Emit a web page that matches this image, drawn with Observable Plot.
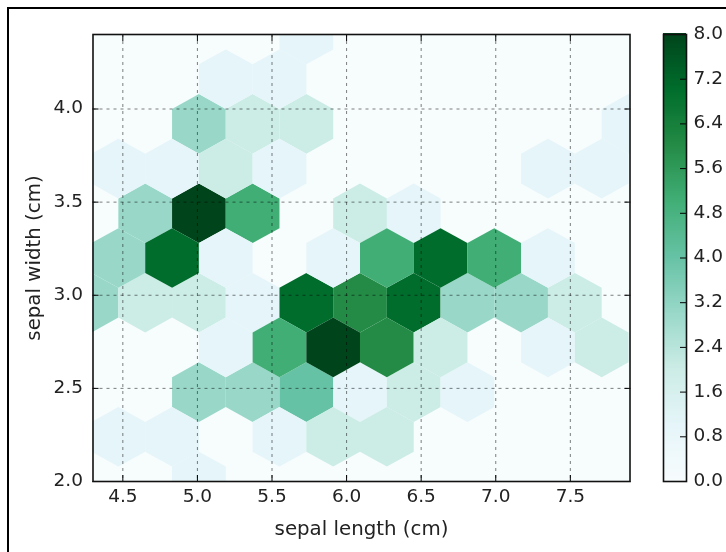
<!DOCTYPE html>
<html>
<head>
<meta charset="utf-8">
<script src="https://cdn.jsdelivr.net/npm/d3@7"></script>
<script src="https://cdn.jsdelivr.net/npm/@observablehq/plot@0.6"></script>
<style>
  html, body { margin: 0; padding: 0; background: #fff; }
  #page { position: relative; width: 726px; height: 552px; overflow: hidden; }
  #page svg { position: absolute; left: 0; top: 0; background: transparent; font-family: "DejaVu Sans"; filter: blur(0.45px); }
  #edge { position: absolute; left: 7px; top: 7px; width: 730px; height: 560px; border-left: 2px solid #000; border-top: 2px solid #000; }
</style>
</head>
<body>
<div id="page"><div id="edge"></div></div>
<script>
// Counts per hexagon, rows bottom to top. Odd rows are offset by half a cell.
const rowsA = [
  [0,0,1,0,0,0,0,0,0,0,0],
  [0,0,3,3,4,1,2,1,0,0,0],
  [3,2,2,1,7,6,7,3,3,2,0],
  [0,3,8,5,0,2,1,0,0,0,0],
  [0,0,3,2,2,0,0,0,0,0,1],
  [0,0,0,0,1,0,0,0,0,0,0]
];
const rowsB = [
  [1,1,0,1,2,2,0,0,0,0],
  [0,0,1,5,8,6,2,0,1,2],
  [3,7,1,0,1,5,7,5,1,0],
  [1,1,2,1,0,0,0,0,1,1],
  [0,0,1,1,0,0,0,0,0,0]
];
const xOrigin = 4.29, yOrigin = 2.0, cellX = 0.36, cellY = 0.48;
const xTicks = [4.5, 5.0, 5.5, 6.0, 6.5, 7.0, 7.5];
const yTicks = [2.0, 2.5, 3.0, 3.5, 4.0];
const barTicks = [0, 0.8, 1.6, 2.4, 3.2, 4.0, 4.8, 5.6, 6.4, 7.2, 8.0];
const colorStops = [0, 1, 2, 3, 4, 5, 6, 7, 8];
const colorRange = d3.schemeBuGn[9];
const barLevels = d3.range(0, 8, 8 / 256);

const hexShape = [[.5,-.5],[.5,.5],[0,1],[-.5,.5],[-.5,-.5],[0,-1]];
const vertices = [];
function addHex(cx, cy, count, id) {
  if (!count) return;
  for (const [a, b] of hexShape) {
    vertices.push({id, count, x: cx + a * cellX, y: cy + b * cellY / 3});
  }
}
rowsA.forEach((row, j) => row.forEach((c, i) =>
  addHex(xOrigin + i * cellX, yOrigin + j * cellY, c, `a${j}-${i}`)));
rowsB.forEach((row, j) => row.forEach((c, i) =>
  addHex(xOrigin + (i + .5) * cellX, yOrigin + (j + .5) * cellY, c, `b${j}-${i}`)));

const color = {type: "linear", domain: colorStops, range: colorRange, interpolate: "rgb"};
const fs = 18.5, lfs = 19.8;
const ink = "#222";
const fmt = d3.format(".1f");
const tickLine = {tickFormat: () => "", label: null, stroke: "#000", tickSize: -6};
const gridLine = {stroke: "#000", strokeOpacity: .5, strokeWidth: 1, strokeDasharray: "3 4"};

const main = Plot.plot({
  width: 726, height: 552,
  marginLeft: 92.5, marginRight: 96.5, marginTop: 34, marginBottom: 71,
  style: {fontFamily: "DejaVu Sans", fontSize: fs + "px", color: ink, background: "transparent"},
  x: {domain: [4.3, 7.9]},
  y: {domain: [2.0, 4.4]},
  color,
  marks: [
    Plot.frame({fill: colorRange[0], stroke: "none"}),
    Plot.line(vertices, {x: "x", y: "y", z: "id", fill: "count", stroke: "none", curve: "linear-closed", clip: "frame"}),
    Plot.gridX(xTicks, gridLine),
    Plot.gridY(yTicks, gridLine),
    Plot.axisX(xTicks, {anchor: "bottom", ...tickLine}),
    Plot.axisX(xTicks, {anchor: "top", ...tickLine}),
    Plot.axisY(yTicks, {anchor: "left", ...tickLine}),
    Plot.axisY(yTicks, {anchor: "right", ...tickLine}),
    Plot.axisX(xTicks, {anchor: "bottom", tickSize: 0, tickPadding: 7, tickFormat: fmt, label: null, fontSize: fs}),
    Plot.axisY(yTicks, {anchor: "left", tickSize: 0, tickPadding: 10, tickFormat: fmt, label: null, fontSize: fs, dy: -1.5}),
    Plot.text(["sepal length (cm)"], {frameAnchor: "bottom", dy: 53, fontSize: lfs}),
    Plot.text(["sepal width (cm)"], {frameAnchor: "left", textAnchor: "middle", rotate: -90, dx: -59.5, fontSize: lfs}),
    Plot.frame({stroke: "#111", strokeWidth: 1.6})
  ]
});

const bar = Plot.plot({
  width: 726, height: 552,
  marginLeft: 663, marginRight: 40, marginTop: 34, marginBottom: 71,
  style: {fontFamily: "DejaVu Sans", fontSize: fs + "px", color: ink, background: "transparent"},
  x: {domain: [0, 1], axis: null},
  y: {domain: [0, 8], axis: null},
  color,
  marks: [
    Plot.rect(barLevels, {x1: 0, x2: 1, y1: d => d, y2: d => d + 8 / 256 + .02, fill: d => d, shapeRendering: "crispEdges"}),
    Plot.axisY(barTicks.slice(1, -1), {anchor: "right", ...tickLine, tickSize: -7}),
    Plot.axisY(barTicks, {anchor: "right", tickSize: 0, tickPadding: 7, tickFormat: fmt, label: null, fontSize: fs, dy: -1.5}),
    Plot.frame({stroke: "#111", strokeWidth: 1.6})
  ]
});

const page = document.getElementById("page");
page.appendChild(main);
page.appendChild(bar);
</script>
</body>
</html>
